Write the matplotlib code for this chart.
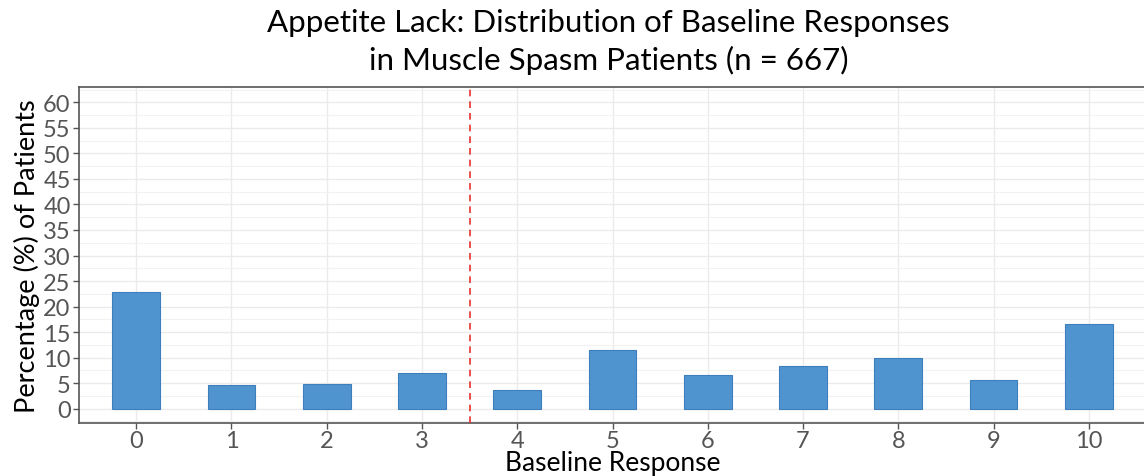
import numpy as np
import matplotlib.pyplot as plt
from matplotlib.ticker import MultipleLocator

responses = [0, 1, 2, 3, 4, 5, 6, 7, 8, 9, 10]
percents = [22.9, 4.6, 4.9, 6.9, 3.6, 11.4, 6.6, 8.4, 10.0, 5.6, 16.6]
cutoff = 3.5

plt.rcParams['font.family'] = ['Lato', 'DejaVu Sans']

fig = plt.figure(figsize=(11.44, 4.77), dpi=100)
ax = fig.add_axes([79 / 1144, 1 - 424 / 477, (1146 - 79) / 1144, (424 - 88) / 477])

ax.bar(responses, percents, width=0.5, color='#4f94cf', edgecolor='#3d7fbd',
       linewidth=0.8, zorder=3)
ax.axvline(cutoff, color='#e8322e', linestyle=(0, (4, 3)), linewidth=1.2, zorder=4)

ax.set_xlim(-0.6, 10.6)
ax.set_ylim(-2.8, 63)
ax.set_xticks(responses)
ax.yaxis.set_major_locator(MultipleLocator(5))
ax.yaxis.set_minor_locator(MultipleLocator(2.5))
ax.set_yticks(np.arange(0, 61, 5))

ax.grid(True, which='major', color='#ebebeb', linewidth=1.0, zorder=0)
ax.grid(True, which='minor', axis='y', color='#f2f2f2', linewidth=0.8, zorder=0)
ax.set_axisbelow(True)

for side in ['left', 'top', 'bottom']:
    ax.spines[side].set_color('#555555')
    ax.spines[side].set_linewidth(1.2)
ax.spines['right'].set_visible(False)

ax.tick_params(axis='both', which='major', labelsize=17, colors='#555555',
               length=4, width=1, labelcolor='#555555')
ax.tick_params(axis='y', which='minor', length=0)
ax.tick_params(axis='x', pad=1)
ax.tick_params(axis='y', pad=2)

ax.set_xlabel('Baseline Response', fontsize=19, labelpad=-1)
ax.set_ylabel('Percentage (%) of Patients', fontsize=19.5, labelpad=2)
fig.suptitle('Appetite Lack: Distribution of Baseline Responses\n'
             'in Muscle Spasm Patients (n = 667)', fontsize=22.5, x=0.532, y=0.982,
             linespacing=1.4)

fig.savefig('out.png', dpi=100)
